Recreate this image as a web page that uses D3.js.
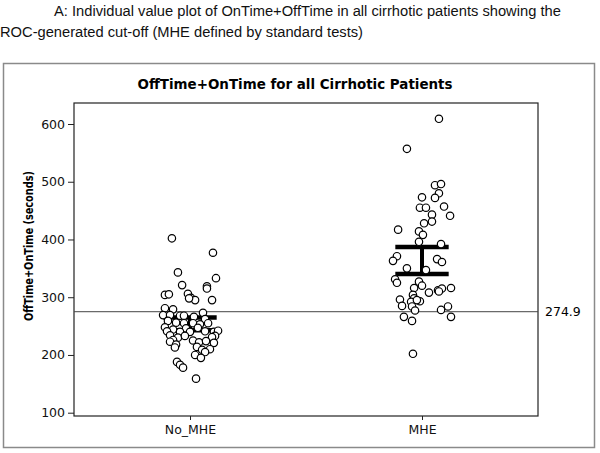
<!DOCTYPE html>
<html>
<head>
<meta charset="utf-8">
<script src="https://cdn.jsdelivr.net/npm/d3@7"></script>
<style>
  body { margin: 0; background: #fff; }
  svg { display: block; }
</style>
</head>
<body>
<svg id="chart"></svg>
<script>
// Groups and ticks
const categories = ["No_MHE", "MHE"];
const yTicks = [100, 200, 300, 400, 500, 600];
const cutoff = 274.9;

// Individual values (seconds) and horizontal jitter (hundredths of a category step)
const noMheValues = [402, 377, 343, 333, 321, 319, 315, 304, 305, 306, 299, 295, 298, 295,
  281, 279, 273, 269, 269, 268, 268, 266, 262, 259, 256, 255, 255, 253, 255,
  248, 246, 247, 244, 241, 240, 240, 241, 240, 242, 233, 231, 234, 230, 233, 226, 225, 222, 224, 221,
  223, 218, 213, 214, 209, 210, 205, 200, 195, 188, 183, 178, 159];
const noMheJitter = [-7.8, 9.9, -5.2, 11.2, -3.4, 7.3, 7.3, -10.8, -9.1, -0.9, 0.4, 2.2, -0.4, 9.5,
  -10.8, -7.3, 5.6, -11.6, -8.6, -4.3, -2.6, 1.7, 6.5, -9.5, -6.0, -2.6, 1.3, 4.3, 7.8,
  -10.8, -1.7, 3.4, -7.3, -9.9, -4.3, 0, 6.5, 10.3, 12.1, 10.8, 9.5, -8.6, -5.2, -2.2, -7.3, 1.3, 3.9, 6.9, 10.3,
  -8.6, -6.0, -6.5, 3.0, 5.2, 8.6, 6.5, 2.2, 4.7, -5.6, -4.3, -3.0, 2.6];

const mheValues = [609, 557, 494, 496, 480, 472, 473, 455, 455, 457, 443, 441, 428, 431, 417, 414, 408, 396, 392,
  371, 363, 366, 361, 350, 347, 331, 325, 327, 316, 320, 312, 315, 310, 316, 308, 304, 298, 296, 292, 293, 295,
  285, 284, 277, 278, 284, 266, 259, 266, 202];
const mheJitter = [7.3, -6.5, 5.6, 8.2, 7.3, 5.6, 0, -0.9, 1.7, 9.5, 4.3, 12.1, 0.9, 4.3, -10.3, -1.3, 0.4, -1.3, 8.2,
  -10.8, -12.5, 6.5, 8.6, -6.5, 1.7, -11.6, -10.8, -1.3, -3.4, 0, 6.9, 8.6, 7.3, 12.5, 3.0, -3.9, -3.4, -9.5, -4.7,
  -0.9, -2.2, -8.6, -4.3, -3.0, 8.2, 11.2, -7.8, -4.3, 12.5, -3.9];

// 95% CI for the mean, per group
const ciLow = [243, 340];
const ciHigh = [265, 387];

const W = 600, H = 453;
const plot = { left: 74, right: 538, top: 103, bottom: 416 };

const svg = d3.select("#chart")
  .attr("width", W)
  .attr("height", H)
  .style("font-family", "'DejaVu Sans', sans-serif");

// Caption above the figure
const caption = svg.append("g")
  .style("font-family", "'Liberation Sans', Arial, sans-serif")
  .style("font-size", "14.7px")
  .attr("fill", "#111");
caption.append("text").attr("x", 54).attr("y", 16)
  .text("A: Individual value plot of OnTime+OffTime in all cirrhotic patients showing the");
caption.append("text").attr("x", 0).attr("y", 37)
  .text("ROC-generated cut-off (MHE defined by standard tests)");

// Outer frame
svg.append("rect")
  .attr("x", 3.5).attr("y", 63.5)
  .attr("width", 591).attr("height", 384)
  .attr("fill", "none")
  .attr("stroke", "#8a8a8a")
  .attr("stroke-width", 1.5);

// Title
svg.append("text")
  .attr("x", 295)
  .attr("y", 89)
  .attr("text-anchor", "middle")
  .attr("textLength", 315)
  .attr("lengthAdjust", "spacingAndGlyphs")
  .style("font-weight", "bold")
  .style("font-size", "13.5px")
  .text("OffTime+OnTime for all Cirrhotic Patients");

// Scales
const x = d3.scaleLinear()
  .domain([0.5, 2.5])
  .range([plot.left, plot.right]);

const y = d3.scaleLinear()
  .domain([100, 600])
  .range([412.7, 124]);

// Axes
const yAxis = svg.append("g")
  .attr("transform", `translate(${plot.left},0)`)
  .call(d3.axisLeft(y).tickValues(yTicks).tickSize(6).tickPadding(3));

const xAxis = svg.append("g")
  .attr("transform", `translate(0,${plot.bottom})`)
  .call(d3.axisBottom(x).tickValues([1, 2]).tickFormat(d => categories[d - 1]).tickSize(4).tickPadding(5));

[yAxis, xAxis].forEach(a => {
  a.select(".domain").remove();
  a.selectAll("line").attr("stroke", "#222");
  a.selectAll("text")
    .attr("fill", "#111")
    .style("font-family", "'DejaVu Sans', sans-serif")
    .style("font-size", "12.5px");
});

// Plot frame
svg.append("rect")
  .attr("x", plot.left).attr("y", plot.top)
  .attr("width", plot.right - plot.left)
  .attr("height", plot.bottom - plot.top)
  .attr("fill", "none")
  .attr("stroke", "#222")
  .attr("stroke-width", 1.2);

// Y label
svg.append("text")
  .attr("transform", `translate(33,246) rotate(-90)`)
  .attr("text-anchor", "middle")
  .attr("textLength", 150)
  .attr("lengthAdjust", "spacingAndGlyphs")
  .style("font-weight", "bold")
  .style("font-size", "13px")
  .text("OffTime+OnTime (seconds)");

// Cut-off reference line
svg.append("line")
  .attr("x1", plot.left).attr("x2", plot.right)
  .attr("y1", y(cutoff)).attr("y2", y(cutoff))
  .attr("stroke", "#444")
  .attr("stroke-width", 1);

svg.append("text")
  .attr("x", plot.right + 7)
  .attr("y", y(cutoff))
  .attr("dy", "0.35em")
  .style("font-size", "12.5px")
  .text(cutoff.toFixed(1));

// CI bars (mean confidence interval)
const halfBar = 0.115;
categories.forEach((c, i) => {
  const g = svg.append("g").attr("stroke", "#000").attr("stroke-width", 4.5);
  [ciLow[i], ciHigh[i]].forEach(v => {
    g.append("line")
      .attr("x1", x(i + 1 - halfBar)).attr("x2", x(i + 1 + halfBar))
      .attr("y1", y(v)).attr("y2", y(v));
  });
  g.append("line")
    .attr("x1", x(i + 1)).attr("x2", x(i + 1))
    .attr("y1", y(ciLow[i])).attr("y2", y(ciHigh[i]))
    .attr("stroke-width", 4);
});

// Individual points
const points = [
  ...noMheValues.map((v, i) => ({ group: 1, value: v, jit: noMheJitter[i] / 100 })),
  ...mheValues.map((v, i) => ({ group: 2, value: v, jit: mheJitter[i] / 100 }))
];

svg.append("g")
  .selectAll("circle")
  .data(points)
  .enter()
  .append("circle")
  .attr("cx", d => x(d.group + d.jit))
  .attr("cy", d => y(d.value))
  .attr("r", 3.7)
  .attr("fill", "#fff")
  .attr("stroke", "#000")
  .attr("stroke-width", 1.2);
</script>
</body>
</html>
